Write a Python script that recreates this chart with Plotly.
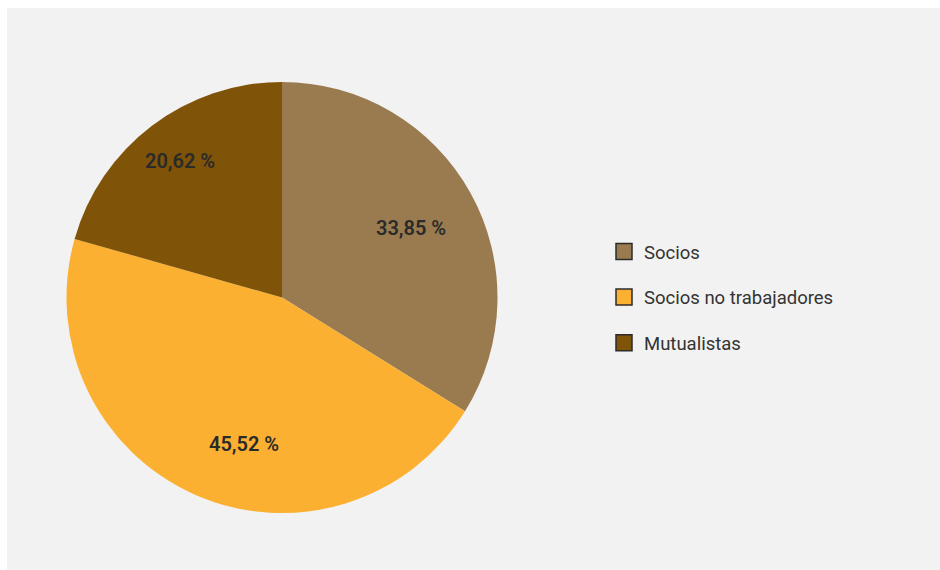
import math
import plotly.graph_objects as go

# Distribution of members by type (percent)
categories = ["Socios", "Socios no trabajadores", "Mutualistas"]
shares = [33.85, 45.52, 20.62]
colors = ["#9a7b4f", "#fbb031", "#7f5308"]

# Label placement inside each slice: radial fraction and angular shift (deg)
label_radius = [0.68, 0.704, 0.79]
label_shift = [0.8, -9.3, 0.5]

W, H = 940, 570
cx, cy, r = 282, 297.5, 215.5

fig = go.Figure()

fig.add_trace(go.Pie(
    labels=categories,
    values=shares,
    sort=False,
    direction="clockwise",
    rotation=0,
    marker=dict(colors=colors, line=dict(width=0)),
    textinfo="none",
    showlegend=False,
    hoverinfo="skip",
    domain=dict(x=[(cx - r) / W, (cx + r) / W],
                y=[(H - cy - r) / H, (H - cy + r) / H]),
))

# Percentage labels, positioned along each slice's bisector
total = sum(shares)
start = 0.0
annotations = []
for val, rf, shift in zip(shares, label_radius, label_shift):
    sweep = 360.0 * val / total
    theta = math.radians(start + sweep / 2 + shift)
    start += sweep
    px = cx + rf * r * math.sin(theta)
    py = cy - rf * r * math.cos(theta)
    annotations.append(dict(
        x=px / W, y=(H - py) / H, xref="paper", yref="paper",
        text=f"{val:.2f}".replace(".", ",") + " %",
        showarrow=False, xanchor="center", yanchor="middle",
        font=dict(family="Roboto", size=20, color="#2a2a2a", weight=600),
    ))

# Legend entries with outlined square swatches
for i, (name, col) in enumerate(zip(categories, colors)):
    fig.add_trace(go.Scatter(
        x=[None], y=[None], mode="markers", name=name,
        legendgroup=f"g{i}",
        marker=dict(symbol="square", size=17, color=col,
                    line=dict(color="#2b2b2b", width=1.5)),
        hoverinfo="skip",
    ))

fig.update_layout(
    width=W, height=H,
    margin=dict(l=0, r=0, t=0, b=0),
    paper_bgcolor="white",
    plot_bgcolor="rgba(0,0,0,0)",
    xaxis=dict(visible=False),
    yaxis=dict(visible=False),
    showlegend=True,
    legend=dict(
        x=604 / W, y=1 - 233 / H, xanchor="left", yanchor="top",
        bgcolor="rgba(0,0,0,0)",
        font=dict(family="Roboto", size=18.5, color="#333333"),
        tracegroupgap=18.5,
        itemclick=False, itemdoubleclick=False,
    ),
    annotations=annotations,
    shapes=[dict(type="rect", xref="paper", yref="paper",
                 x0=7 / W, x1=1, y0=0, y1=1 - 8 / H,
                 fillcolor="#f2f2f2", line=dict(width=0), layer="below")],
)

fig.write_html("out.html")
